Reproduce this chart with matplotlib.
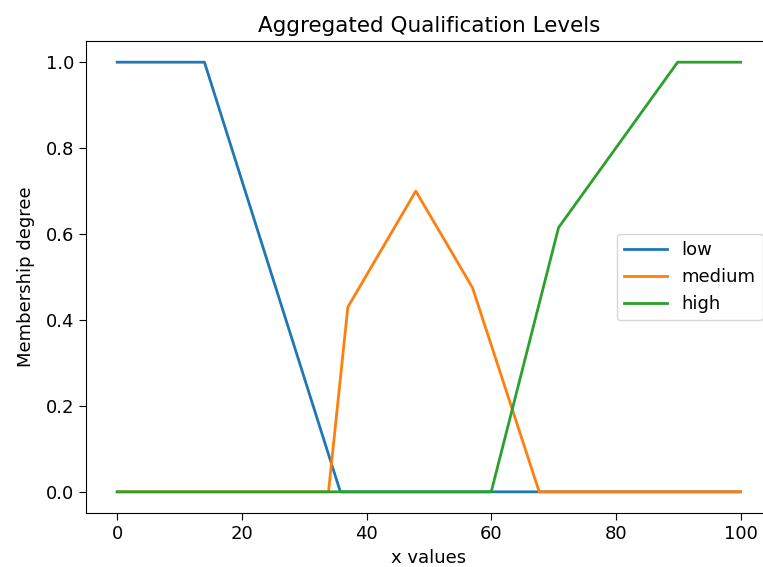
import numpy as np
import matplotlib
matplotlib.use("Agg")
import matplotlib.pyplot as plt

# membership curves
x_low = [0, 14, 35.8, 100]
y_low = [1.0, 1.0, 0.0, 0.0]

x_medium = [0, 33.9, 37.0, 47.9, 57.0, 67.7, 100]
y_medium = [0.0, 0.0, 0.43, 0.70, 0.475, 0.0, 0.0]

x_high = [0, 60, 70.8, 89.9, 100]
y_high = [0.0, 0.0, 0.615, 1.0, 1.0]

fig = plt.figure(figsize=(7.63, 5.67), dpi=100)
ax = fig.add_axes([0.1127, 0.0947, 0.8988, 0.8335])

ax.plot(x_low, y_low, label='low', linewidth=2)
ax.plot(x_medium, y_medium, label='medium', linewidth=2)
ax.plot(x_high, y_high, label='high', linewidth=2)

ax.set_xlim(-5, 105)
ax.set_ylim(-0.05, 1.05)
ax.set_xticks([0, 20, 40, 60, 80, 100])
ax.set_yticks([0.0, 0.2, 0.4, 0.6, 0.8, 1.0])
ax.tick_params(labelsize=13, length=5)
ax.set_xlabel('x values', fontsize=13)
ax.set_ylabel('Membership degree', fontsize=13, labelpad=8)
ax.set_title('Aggregated Qualification Levels', fontsize=15.5)
ax.legend(loc='center right', fontsize=13, handlelength=2.4)

fig.savefig('out.png', dpi=100)
